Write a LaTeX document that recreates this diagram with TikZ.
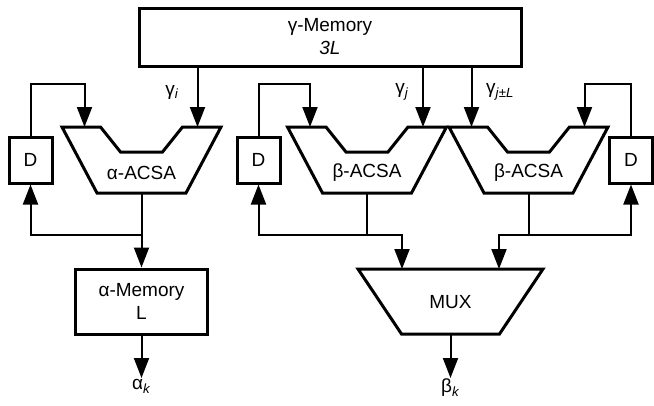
\documentclass[tikz,border=0pt]{standalone}
\usepackage{fontspec}
\setmainfont{Liberation Sans}
\usetikzlibrary{arrows.meta}
\newcommand{\lblfont}{\fontsize{19}{23}\selectfont}
\tikzset{
  conn/.style={line width=2pt},
  arr/.style={conn,-{Triangle[length=20pt,width=15pt]}},
  blk/.style={draw,line width=3pt,align=center,font=\lblfont},
  dbox/.style={blk,minimum width=43pt,minimum height=46pt},
  % notched trapezoid of an ACSA unit, origin at the middle of its top edge
  acsa/.pic={
    \draw[line width=3pt] (-79.5,0) -- (-41,0) -- (-21,25) -- (21,25) -- (41,0)
      -- (79.5,0) -- (44.5,66) -- (-44.5,66) -- cycle;
    \node[font=\lblfont] (-lbl) at (0,46) {#1};
    \coordinate (-inl) at (-57,0);
    \coordinate (-inr) at (56,0);
    \coordinate (-fbl) at (-57,-43);
    \coordinate (-fbr) at (56,-43);
    \coordinate (-out) at (0,66);
    \coordinate (-bus) at (0,108);
  },
  % multiplexer, origin at the middle of its top edge
  mux/.pic={
    \draw[line width=3pt] (-92.5,0) -- (92.5,0) -- (49,65) -- (-49,65) -- cycle;
    \node[font=\lblfont] (-lbl) at (0,33) {MUX};
    \coordinate (-inl) at (-48.5,0);
    \coordinate (-inr) at (48.5,0);
    \coordinate (-out) at (0,65);
  }
}
\begin{document}
\begin{tikzpicture}[x=1pt,y=-1pt]
\useasboundingbox (0,0) rectangle (654,405);

% draw memories
\node[blk,minimum width=382pt,minimum height=58pt] (gmem) at (330,37) {γ-Memory\\\textit{3L}};
\node[blk,minimum width=132pt,minimum height=65pt] (amem) at (141.5,301.5) {α-Memory\\L};

% draw ACSA units and MUX
\pic (aacsa) at (141.5,127) {acsa={α-ACSA}};
\pic (bacsa1) at (367,127) {acsa={β-ACSA}};
\pic (bacsa2) at (528.5,127) {acsa={β-ACSA}};
\pic (mux) at (450.5,269) {mux};

% draw delays
\node[dbox] (d1) at (30.5,160) {D};
\node[dbox] (d2) at (258.5,160) {D};
\node[dbox] (d3) at (631,160) {D};

% draw labels
\node[font=\lblfont] (gi) at (172,92) {γ\textsubscript{\textit{i}}};
\node[font=\lblfont] (gj) at (402,92) {γ\textsubscript{\textit{j}}};
\node[font=\lblfont] (gjl) at (500,92) {γ\textsubscript{\textit{j}±\textit{L}}};
\node[font=\lblfont,anchor=north,inner sep=1pt] (ak) at (141.5,378) {α\textsubscript{\textit{k}}};
\node[font=\lblfont,anchor=north,inner sep=1pt] (bk) at (450.5,378) {β\textsubscript{\textit{k}}};

% draw branch metric inputs
\draw[arr] (aacsa-inr |- gmem.south) -- (aacsa-inr);
\draw[arr] (bacsa1-inr |- gmem.south) -- (bacsa1-inr);
\draw[arr] (bacsa2-inl |- gmem.south) -- (bacsa2-inl);

% draw feedback loops
\draw[arr] (d1.north) |- (aacsa-fbl) -- (aacsa-inl);
\draw[arr] (d2.north) |- (bacsa1-fbl) -- (bacsa1-inl);
\draw[arr] (d3.north) |- (bacsa2-fbr) -- (bacsa2-inr);

% draw outputs of ACSA units
\draw[arr] (aacsa-out) -- (amem.north);
\draw[arr] (aacsa-bus) -| (d1.south);
\draw[conn] (bacsa1-out) -- (bacsa1-bus);
\draw[arr] (bacsa1-bus) -| (d2.south);
\draw[arr] (bacsa1-bus) -| (mux-inl);
\draw[conn] (bacsa2-out) -- (bacsa2-bus);
\draw[arr] (bacsa2-bus) -| (d3.south);
\draw[arr] (bacsa2-bus) -| (mux-inr);

% draw final outputs
\draw[arr] (amem.south) -- (ak.north);
\draw[arr] (mux-out) -- (bk.north);
\end{tikzpicture}
\end{document}
